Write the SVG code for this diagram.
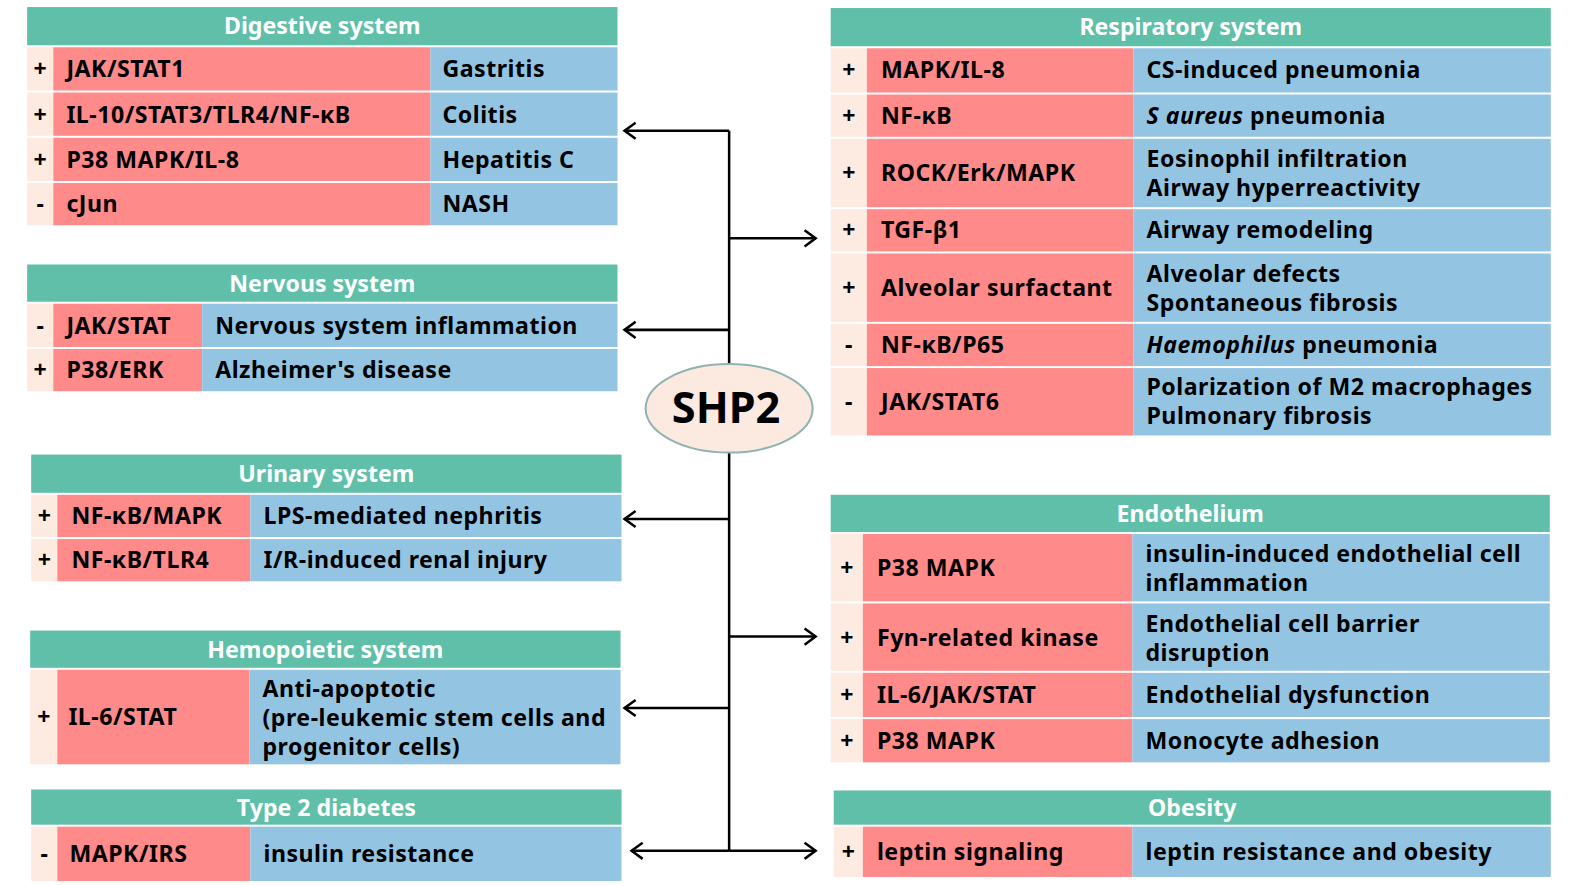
<svg xmlns="http://www.w3.org/2000/svg" width="1577" height="886" viewBox="0 0 1577 886">
<defs>
<style>
.hd{fill:#5FBFA9}
.sg{fill:#FDEBE1}
.rd{fill:#FF8A8A}
.bl{fill:#93C5E3}
.ht{font-family:"Noto Sans",sans-serif;font-weight:bold;font-size:23px;fill:#fff;text-anchor:middle}
.t{font-family:"Noto Sans",sans-serif;font-weight:bold;font-size:23px;fill:#000;letter-spacing:0.5px}
.s{font-family:"Noto Sans",sans-serif;font-weight:bold;font-size:23px;fill:#000;text-anchor:middle}
.i{font-style:italic}
.cn{fill:none;stroke:#000;stroke-width:2.5}
</style>
<marker id="ah" markerUnits="userSpaceOnUse" orient="auto" markerWidth="24" markerHeight="24" refX="0" refY="0" overflow="visible">
<path d="M-11,-8 L0,0 L-11,8" fill="none" stroke="#000" stroke-width="2.5" stroke-linejoin="miter"/>
</marker>
</defs>
<rect width="1577" height="886" fill="#fff"/>
<g transform="scale(1.0057)">
<g id="connectors">
<path class="cn" d="M725,130 V846"/>
<path class="cn" d="M725,130 H621" marker-end="url(#ah)"/>
<path class="cn" d="M725,328 H621" marker-end="url(#ah)"/>
<path class="cn" d="M725,516 H621" marker-end="url(#ah)"/>
<path class="cn" d="M725,704 H621" marker-end="url(#ah)"/>
<path class="cn" d="M725,846 H628" marker-end="url(#ah)"/>
<path class="cn" d="M725,237 H811" marker-end="url(#ah)"/>
<path class="cn" d="M725,633 H811" marker-end="url(#ah)"/>
<path class="cn" d="M725,846 H811" marker-end="url(#ah)"/>
</g>
<g id="shp2">
<ellipse cx="725" cy="406" rx="83" ry="44" fill="#FCEAE0" stroke="#8FB3B0" stroke-width="2"/>
<text x="722" y="421" font-family="Noto Sans, sans-serif" font-weight="bold" font-size="43" text-anchor="middle" fill="#000">SHP2</text>
</g>
<g id="digestive">
<rect class="hd" x="27" y="7" width="587" height="38"/>
<text class="ht" x="320.5" y="34">Digestive system</text>
<rect class="sg" x="27" y="47" width="26" height="43"/><rect class="rd" x="53" y="47" width="375" height="43"/><rect class="bl" x="428" y="47" width="186" height="43"/>
<rect class="sg" x="27" y="92" width="26" height="43"/><rect class="rd" x="53" y="92" width="375" height="43"/><rect class="bl" x="428" y="92" width="186" height="43"/>
<rect class="sg" x="27" y="137" width="26" height="43"/><rect class="rd" x="53" y="137" width="375" height="43"/><rect class="bl" x="428" y="137" width="186" height="43"/>
<rect class="sg" x="27" y="182" width="26" height="42"/><rect class="rd" x="53" y="182" width="375" height="42"/><rect class="bl" x="428" y="182" width="186" height="42"/>
<text class="s" x="40" y="77">+</text><text class="t" x="66" y="77">JAK/STAT1</text><text class="t" x="440" y="77">Gastritis</text>
<text class="s" x="40" y="122">+</text><text class="t" x="66" y="122">IL-10/STAT3/TLR4/NF-κB</text><text class="t" x="440" y="122">Colitis</text>
<text class="s" x="40" y="167">+</text><text class="t" x="66" y="167">P38 MAPK/IL-8</text><text class="t" x="440" y="167">Hepatitis C</text>
<text class="s" x="40" y="211">-</text><text class="t" x="66" y="211">cJun</text><text class="t" x="440" y="211">NASH</text>
</g>
<g id="nervous">
<rect class="hd" x="27" y="263" width="587" height="37"/>
<text class="ht" x="320.5" y="290">Nervous system</text>
<rect class="sg" x="27" y="302" width="26" height="43"/><rect class="rd" x="53" y="302" width="148" height="43"/><rect class="bl" x="201" y="302" width="413" height="43"/>
<rect class="sg" x="27" y="347" width="26" height="42"/><rect class="rd" x="53" y="347" width="148" height="42"/><rect class="bl" x="201" y="347" width="413" height="42"/>
<text class="s" x="40" y="332">-</text><text class="t" x="66" y="332">JAK/STAT</text><text class="t" x="214" y="332">Nervous system inflammation</text>
<text class="s" x="40" y="376">+</text><text class="t" x="66" y="376">P38/ERK</text><text class="t" x="214" y="376">Alzheimer's disease</text>
</g>
<g id="urinary">
<rect class="hd" x="31" y="452" width="587" height="38"/>
<text class="ht" x="324.5" y="479">Urinary system</text>
<rect class="sg" x="31" y="492" width="26" height="42"/><rect class="rd" x="57" y="492" width="192" height="42"/><rect class="bl" x="249" y="492" width="369" height="42"/>
<rect class="sg" x="31" y="536" width="26" height="42"/><rect class="rd" x="57" y="536" width="192" height="42"/><rect class="bl" x="249" y="536" width="369" height="42"/>
<text class="s" x="44" y="521">+</text><text class="t" x="71" y="521">NF-κB/MAPK</text><text class="t" x="262" y="521">LPS-mediated nephritis</text>
<text class="s" x="44" y="565">+</text><text class="t" x="71" y="565">NF-κB/TLR4</text><text class="t" x="262" y="565">I/R-induced renal injury</text>
</g>
<g id="hemopoietic">
<rect class="hd" x="30" y="627" width="587" height="37"/>
<text class="ht" x="323.5" y="654">Hemopoietic system</text>
<rect class="sg" x="30" y="666" width="27" height="94"/><rect class="rd" x="57" y="666" width="191" height="94"/><rect class="bl" x="248" y="666" width="369" height="94"/>
<text class="s" x="43.5" y="721">+</text><text class="t" x="68" y="721">IL-6/STAT</text>
<text class="t" x="261" y="693">Anti-apoptotic</text>
<text class="t" x="261" y="722">(pre-leukemic stem cells and</text>
<text class="t" x="261" y="751">progenitor cells)</text>
</g>
<g id="diabetes">
<rect class="hd" x="31" y="785" width="587" height="35"/>
<text class="ht" x="324.5" y="811">Type 2 diabetes</text>
<rect class="sg" x="31" y="822" width="26" height="54"/><rect class="rd" x="57" y="822" width="192" height="54"/><rect class="bl" x="249" y="822" width="369" height="54"/>
<text class="s" x="44" y="857">-</text><text class="t" x="69" y="857">MAPK/IRS</text><text class="t" x="262" y="857">insulin resistance</text>
</g>
<g id="respiratory">
<rect class="hd" x="826" y="8" width="716" height="38"/>
<text class="ht" x="1184" y="35">Respiratory system</text>
<rect class="sg" x="826" y="48" width="36" height="44"/><rect class="rd" x="862" y="48" width="265" height="44"/><rect class="bl" x="1127" y="48" width="415" height="44"/>
<rect class="sg" x="826" y="94" width="36" height="42"/><rect class="rd" x="862" y="94" width="265" height="42"/><rect class="bl" x="1127" y="94" width="415" height="42"/>
<rect class="sg" x="826" y="138" width="36" height="68"/><rect class="rd" x="862" y="138" width="265" height="68"/><rect class="bl" x="1127" y="138" width="415" height="68"/>
<rect class="sg" x="826" y="208" width="36" height="42"/><rect class="rd" x="862" y="208" width="265" height="42"/><rect class="bl" x="1127" y="208" width="415" height="42"/>
<rect class="sg" x="826" y="252" width="36" height="68"/><rect class="rd" x="862" y="252" width="265" height="68"/><rect class="bl" x="1127" y="252" width="415" height="68"/>
<rect class="sg" x="826" y="322" width="36" height="42"/><rect class="rd" x="862" y="322" width="265" height="42"/><rect class="bl" x="1127" y="322" width="415" height="42"/>
<rect class="sg" x="826" y="366" width="36" height="67"/><rect class="rd" x="862" y="366" width="265" height="67"/><rect class="bl" x="1127" y="366" width="415" height="67"/>
<text class="s" x="844" y="78">+</text><text class="t" x="876" y="78">MAPK/IL-8</text><text class="t" x="1140" y="78">CS-induced pneumonia</text>
<text class="s" x="844" y="123">+</text><text class="t" x="876" y="123">NF-κB</text><text class="t" x="1140" y="123"><tspan class="i">S aureus</tspan> pneumonia</text>
<text class="s" x="844" y="180">+</text><text class="t" x="876" y="180">ROCK/Erk/MAPK</text><text class="t" x="1140" y="166">Eosinophil infiltration</text><text class="t" x="1140" y="195">Airway hyperreactivity</text>
<text class="s" x="844" y="237">+</text><text class="t" x="876" y="237">TGF-β1</text><text class="t" x="1140" y="237">Airway remodeling</text>
<text class="s" x="844" y="294">+</text><text class="t" x="876" y="294">Alveolar surfactant</text><text class="t" x="1140" y="280">Alveolar defects</text><text class="t" x="1140" y="309">Spontaneous fibrosis</text>
<text class="s" x="844" y="351">-</text><text class="t" x="876" y="351">NF-κB/P65</text><text class="t" x="1140" y="351"><tspan class="i">Haemophilus</tspan> pneumonia</text>
<text class="s" x="844" y="408">-</text><text class="t" x="876" y="408">JAK/STAT6</text><text class="t" x="1140" y="393">Polarization of M2 macrophages</text><text class="t" x="1140" y="422">Pulmonary fibrosis</text>
</g>
<g id="endothelium">
<rect class="hd" x="826" y="492" width="715" height="37"/>
<text class="ht" x="1183.5" y="519">Endothelium</text>
<rect class="sg" x="826" y="531" width="32" height="67"/><rect class="rd" x="858" y="531" width="268" height="67"/><rect class="bl" x="1126" y="531" width="415" height="67"/>
<rect class="sg" x="826" y="600" width="32" height="67"/><rect class="rd" x="858" y="600" width="268" height="67"/><rect class="bl" x="1126" y="600" width="415" height="67"/>
<rect class="sg" x="826" y="669" width="32" height="44"/><rect class="rd" x="858" y="669" width="268" height="44"/><rect class="bl" x="1126" y="669" width="415" height="44"/>
<rect class="sg" x="826" y="715" width="32" height="43"/><rect class="rd" x="858" y="715" width="268" height="43"/><rect class="bl" x="1126" y="715" width="415" height="43"/>
<text class="s" x="842" y="573">+</text><text class="t" x="872" y="573">P38 MAPK</text><text class="t" x="1139" y="559">insulin-induced endothelial cell</text><text class="t" x="1139" y="588">inflammation</text>
<text class="s" x="842" y="642">+</text><text class="t" x="872" y="642">Fyn-related kinase</text><text class="t" x="1139" y="628">Endothelial cell barrier</text><text class="t" x="1139" y="657">disruption</text>
<text class="s" x="842" y="699">+</text><text class="t" x="872" y="699">IL-6/JAK/STAT</text><text class="t" x="1139" y="699">Endothelial dysfunction</text>
<text class="s" x="842" y="745">+</text><text class="t" x="872" y="745">P38 MAPK</text><text class="t" x="1139" y="745">Monocyte adhesion</text>
</g>
<g id="obesity">
<rect class="hd" x="829" y="786" width="713" height="34"/>
<text class="ht" x="1185.5" y="811">Obesity</text>
<rect class="sg" x="829" y="822" width="29" height="50"/><rect class="rd" x="858" y="822" width="268" height="50"/><rect class="bl" x="1126" y="822" width="416" height="50"/>
<text class="s" x="843.5" y="855">+</text><text class="t" x="872" y="855">leptin signaling</text><text class="t" x="1139" y="855">leptin resistance and obesity</text>
</g>
</g>
</svg>
